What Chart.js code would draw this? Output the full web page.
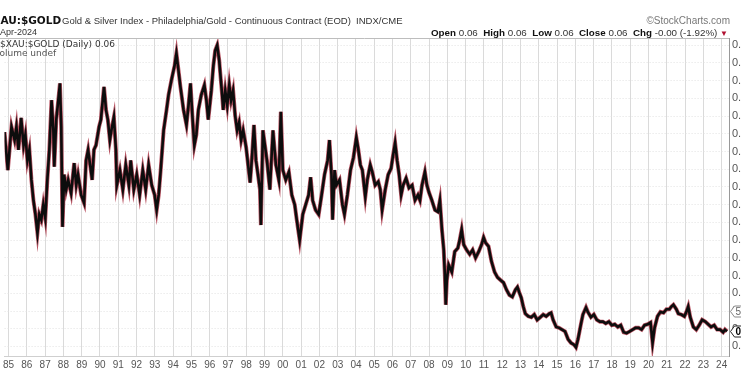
<!DOCTYPE html>
<html><head><meta charset="utf-8">
<script src="https://cdn.jsdelivr.net/npm/chart.js@4/dist/chart.umd.min.js"></script>
<style>
html,body{margin:0;padding:0;background:#fff;overflow:hidden;width:741px;height:381px}
#wrap{position:relative;width:741px;height:381px;overflow:hidden}
canvas{position:absolute;left:0;top:0}
.t{position:absolute;white-space:nowrap;font-family:"Liberation Sans",Arial,sans-serif;color:#222;line-height:1}
</style></head><body>
<div id="wrap">
<canvas id="c" width="741" height="381"></canvas>
<div class="t" style="left:-15px;top:15px;font-family:'DejaVu Sans';font-weight:bold;font-size:10.5px;color:#111">$XAU:$GOLD</div>
<div class="t" style="left:62px;top:16px;font-size:9.5px;color:#333">Gold &amp; Silver Index - Philadelphia/Gold - Continuous Contract (EOD)&nbsp; INDX/CME</div>
<div class="t" style="right:11px;top:15.5px;font-size:10px;color:#777">©StockCharts.com</div>
<div class="t" style="left:0px;top:28px;font-size:9px;color:#333">Apr-2024</div>
<div class="t" style="right:13px;top:27.5px;font-size:9.8px;color:#333"><b style="color:#111">Open</b> 0.06&nbsp; <b style="color:#111">High</b> 0.06&nbsp; <b style="color:#111">Low</b> 0.06&nbsp; <b style="color:#111">Close</b> 0.06&nbsp; <b style="color:#111">Chg</b> -0.00 (-1.92%) <span style="color:#b01030;font-size:8px">▼</span></div>
<div class="t" style="left:0px;top:40px;font-family:'DejaVu Sans';font-size:9px;color:#333">$XAU:$GOLD (Daily) 0.06</div>
<div class="t" style="left:-6px;top:49px;font-family:'DejaVu Sans';font-size:9px;color:#555">Volume undef</div>
</div>
<script>
// decimal-year dates and XAU/Gold ratio values
const dates = [1984.78,1984.96,1985.16,1985.33,1985.43,1985.54,1985.69,1985.82,1985.92,1986.03,1986.14,1986.25,1986.36,1986.47,1986.58,1986.68,1986.79,1986.90,1987.01,1987.12,1987.23,1987.35,1987.45,1987.50,1987.61,1987.72,1987.81,1987.88,1987.95,1988.04,1988.15,1988.26,1988.42,1988.59,1988.70,1988.80,1988.97,1989.13,1989.24,1989.35,1989.46,1989.57,1989.67,1989.78,1989.95,1990.05,1990.22,1990.33,1990.43,1990.54,1990.65,1990.76,1990.87,1990.92,1991.09,1991.25,1991.41,1991.58,1991.68,1991.85,1992.01,1992.17,1992.34,1992.50,1992.66,1992.83,1992.99,1993.10,1993.21,1993.32,1993.48,1993.64,1993.75,1993.91,1994.08,1994.18,1994.29,1994.40,1994.57,1994.73,1994.84,1994.95,1995.05,1995.16,1995.27,1995.38,1995.54,1995.71,1995.82,1995.92,1996.09,1996.20,1996.30,1996.41,1996.52,1996.58,1996.68,1996.74,1996.85,1996.96,1997.07,1997.17,1997.28,1997.39,1997.50,1997.61,1997.72,1997.83,1997.99,1998.10,1998.21,1998.32,1998.42,1998.53,1998.64,1998.75,1998.80,1998.91,1999.02,1999.13,1999.29,1999.46,1999.62,1999.78,1999.89,2000.00,2000.16,2000.33,2000.49,2000.65,2000.76,2000.92,2001.09,2001.25,2001.41,2001.52,2001.63,2001.79,2001.96,2002.12,2002.28,2002.45,2002.55,2002.66,2002.72,2002.83,2002.93,2003.10,2003.26,2003.37,2003.53,2003.70,2003.86,2004.02,2004.13,2004.24,2004.35,2004.51,2004.62,2004.78,2004.89,2005.05,2005.22,2005.33,2005.43,2005.60,2005.76,2005.92,2006.03,2006.14,2006.25,2006.36,2006.47,2006.58,2006.74,2006.90,2007.07,2007.23,2007.39,2007.50,2007.61,2007.77,2007.88,2007.99,2008.15,2008.32,2008.48,2008.59,2008.70,2008.80,2008.86,2008.91,2008.97,2009.07,2009.24,2009.40,2009.57,2009.67,2009.78,2009.89,2010.05,2010.22,2010.38,2010.54,2010.71,2010.87,2010.98,2011.09,2011.25,2011.41,2011.58,2011.74,2011.90,2012.07,2012.23,2012.39,2012.55,2012.72,2012.83,2012.93,2013.04,2013.15,2013.26,2013.42,2013.59,2013.75,2013.91,2014.08,2014.24,2014.40,2014.57,2014.67,2014.78,2014.95,2015.11,2015.27,2015.43,2015.60,2015.76,2015.92,2016.03,2016.14,2016.30,2016.41,2016.58,2016.68,2016.85,2017.01,2017.17,2017.34,2017.50,2017.66,2017.83,2017.99,2018.15,2018.32,2018.48,2018.64,2018.80,2018.97,2019.13,2019.29,2019.46,2019.62,2019.78,2019.95,2020.11,2020.22,2020.33,2020.49,2020.65,2020.82,2020.98,2021.14,2021.25,2021.36,2021.52,2021.63,2021.79,2021.96,2022.07,2022.17,2022.28,2022.45,2022.61,2022.77,2022.93,2023.10,2023.26,2023.42,2023.59,2023.75,2023.91,2024.08,2024.18,2024.29];
const ratio = [0.282,0.239,0.288,0.273,0.288,0.262,0.298,0.267,0.279,0.250,0.262,0.228,0.205,0.189,0.168,0.189,0.183,0.200,0.185,0.228,0.262,0.318,0.284,0.243,0.296,0.318,0.337,0.288,0.175,0.234,0.217,0.228,0.213,0.247,0.222,0.234,0.211,0.202,0.250,0.262,0.245,0.228,0.262,0.267,0.288,0.296,0.333,0.307,0.296,0.273,0.287,0.299,0.262,0.222,0.239,0.217,0.245,0.222,0.250,0.217,0.234,0.211,0.239,0.217,0.245,0.222,0.211,0.194,0.211,0.239,0.284,0.307,0.324,0.341,0.357,0.371,0.352,0.333,0.307,0.290,0.312,0.337,0.301,0.267,0.279,0.307,0.324,0.335,0.318,0.296,0.329,0.357,0.374,0.380,0.363,0.348,0.324,0.307,0.329,0.312,0.335,0.318,0.329,0.301,0.284,0.293,0.273,0.284,0.265,0.245,0.225,0.256,0.290,0.250,0.234,0.217,0.177,0.284,0.267,0.250,0.217,0.284,0.245,0.228,0.305,0.239,0.228,0.237,0.211,0.200,0.183,0.160,0.189,0.200,0.211,0.231,0.205,0.194,0.189,0.211,0.234,0.250,0.273,0.234,0.183,0.239,0.222,0.228,0.200,0.189,0.211,0.239,0.253,0.276,0.262,0.245,0.239,0.209,0.228,0.245,0.237,0.222,0.226,0.217,0.194,0.217,0.234,0.241,0.256,0.270,0.250,0.234,0.211,0.222,0.230,0.219,0.222,0.205,0.211,0.205,0.222,0.237,0.222,0.214,0.205,0.194,0.192,0.205,0.172,0.149,0.121,0.087,0.115,0.132,0.124,0.147,0.151,0.160,0.172,0.155,0.149,0.144,0.149,0.140,0.147,0.155,0.163,0.157,0.153,0.136,0.124,0.118,0.115,0.112,0.104,0.098,0.096,0.104,0.107,0.101,0.095,0.085,0.077,0.074,0.073,0.076,0.070,0.073,0.076,0.074,0.077,0.078,0.070,0.062,0.061,0.059,0.057,0.048,0.044,0.042,0.039,0.048,0.065,0.076,0.084,0.079,0.073,0.076,0.070,0.068,0.068,0.066,0.068,0.064,0.065,0.062,0.064,0.056,0.055,0.057,0.059,0.061,0.061,0.059,0.064,0.065,0.067,0.044,0.061,0.074,0.079,0.078,0.082,0.082,0.085,0.087,0.082,0.077,0.076,0.074,0.079,0.085,0.073,0.062,0.059,0.064,0.070,0.068,0.065,0.062,0.064,0.059,0.059,0.056,0.059,0.057];
const yearTicks = [1985,1986,1987,1988,1989,1990,1991,1992,1993,1994,1995,1996,1997,1998,1999,2000,2001,2002,2003,2004,2005,2006,2007,2008,2009,2010,2011,2012,2013,2014,2015,2016,2017,2018,2019,2020,2021,2022,2023,2024];
const yearLabels = ['85','86','87','88','89','90','91','92','93','94','95','96','97','98','99','00','01','02','03','04','05','06','07','08','09','10','11','12','13','14','15','16','17','18','19','20','21','22','23','24'];
const priceTicks = [0.04,0.06,0.08,0.10,0.12,0.14,0.16,0.18,0.20,0.22,0.24,0.26,0.28,0.30,0.32,0.34,0.36,0.38];
const priceLabels = ['0.04','0.06','0.08','0.10','0.12','0.14','0.16','0.18','0.20','0.22','0.24','0.26','0.28','0.30','0.32','0.34','0.36','0.38'];
const tagValues = [0.0800, 0.0575];
const tagTexts = ['51', '0.0555'];

const pts = dates.map((d,i)=>({x:d, y:ratio[i]}));

const frame = {
  id:'frame',
  afterDraw(chart){
    const {ctx, chartArea:a, scales:{y}} = chart;
    ctx.save();
    ctx.strokeStyle='#bdbdbd'; ctx.lineWidth=1;
    ctx.beginPath(); ctx.moveTo(0,a.top+0.5); ctx.lineTo(a.right,a.top+0.5); ctx.stroke();
    tagValues.forEach((v,i)=>{
      const yy = Math.round(y.getPixelForValue(v))+0.5;
      const x0 = a.right+1.5;
      ctx.beginPath();
      ctx.moveTo(x0, yy);
      ctx.lineTo(x0+4, yy-5.5);
      ctx.lineTo(x0+45, yy-5.5);
      ctx.lineTo(x0+45, yy+5.5);
      ctx.lineTo(x0+4, yy+5.5);
      ctx.closePath();
      ctx.fillStyle='#fff'; ctx.fill();
      ctx.strokeStyle = i===1?'#222':'#888'; ctx.lineWidth=1; ctx.stroke();
      ctx.fillStyle = i===1?'#000':'#666';
      ctx.font = (i===1?'bold ':'')+'10px "Liberation Sans"';
      ctx.textBaseline='middle'; ctx.textAlign='left';
      ctx.fillText(tagTexts[i], x0+5, yy+0.5);
    });
    ctx.restore();
  }
};

new Chart(document.getElementById('c'), {
  type:'line',
  data:{datasets:[
    {data:pts, borderColor:'#0d0d0d', borderWidth:2.6, pointRadius:0, tension:0, order:0, borderJoinStyle:'miter'},
    {data:pts, borderColor:'rgba(160,25,45,0.75)', borderWidth:4, pointRadius:0, tension:0, order:1}
  ]},
  options:{
    responsive:false, animation:false, devicePixelRatio:1,
    layout:{padding:{top:38,left:0,right:0,bottom:0}},
    plugins:{legend:{display:false}, tooltip:{enabled:false}},
    scales:{
      x:{type:'linear', min:1984.783, max:2024.40,
        afterBuildTicks:s=>{s.ticks = yearTicks.map(v=>({value:v}));},
        afterFit:s=>{s.height=25;},
        ticks:{autoSkip:false, maxRotation:0, padding:3, color:'#555', font:{family:'Liberation Sans', size:10},
          callback:(v,i)=>yearLabels[i]},
        grid:{color:'#dadada', drawTicks:false, lineWidth:1},
        border:{display:true, color:'#cfcfcf'}
      },
      y:{type:'linear', position:'right', min:0.0292, max:0.3882,
        afterBuildTicks:s=>{s.ticks = priceTicks.map(v=>({value:v}));},
        afterFit:s=>{s.width=12;},
        ticks:{autoSkip:false, padding:3, color:'#555', font:{family:'Liberation Sans', size:11},
          callback:(v,i)=>priceLabels[i]},
        grid:{color:'#e2e2e2', drawTicks:false, lineWidth:1},
        border:{display:true, color:'#999', dash:[1,2]}
      }
    }
  },
  plugins:[frame]
});
</script>
</body></html>
